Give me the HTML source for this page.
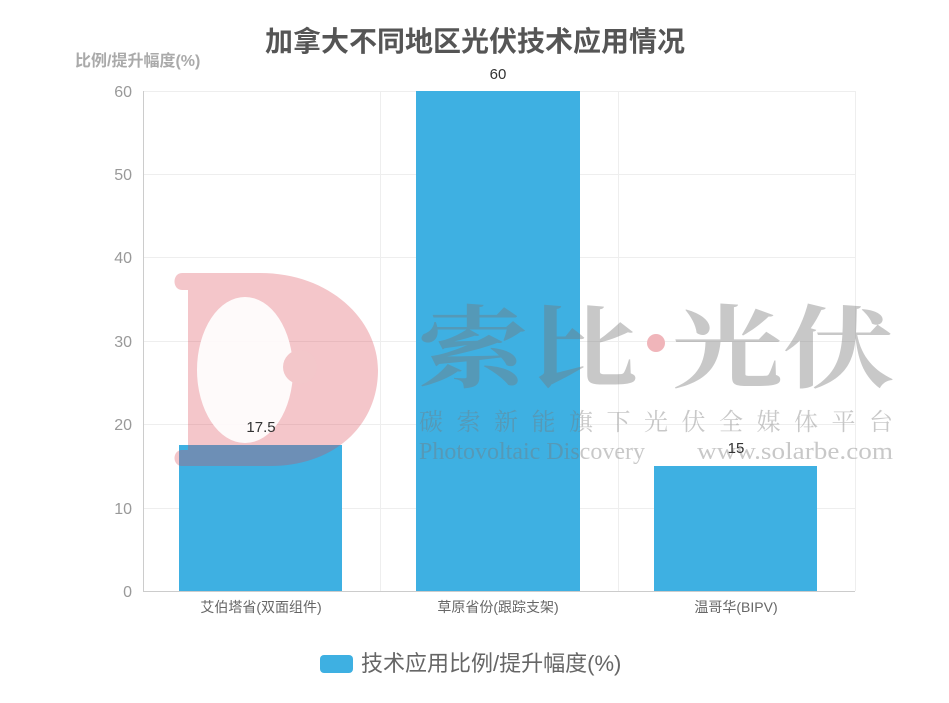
<!DOCTYPE html>
<html><head><meta charset="utf-8"><style>
html,body{margin:0;padding:0;background:#fff;}
svg{display:block;}
text{font-family:"Liberation Sans","Noto Sans CJK SC",sans-serif;}
</style></head><body>
<svg width="949" height="703" viewBox="0 0 949 703" xmlns="http://www.w3.org/2000/svg">
<text x="475" y="51" text-anchor="middle" font-size="28" font-weight="bold" fill="#555">加拿大不同地区光伏技术应用情况</text>
<text x="75" y="66" font-size="16" font-weight="bold" fill="#aaa">比例/提升幅度(%)</text>
<g stroke="#eee" stroke-width="1">
<line x1="143" y1="91.5" x2="855" y2="91.5"/>
<line x1="143" y1="174.5" x2="855" y2="174.5"/>
<line x1="143" y1="257.5" x2="855" y2="257.5"/>
<line x1="143" y1="341.5" x2="855" y2="341.5"/>
<line x1="143" y1="424.5" x2="855" y2="424.5"/>
<line x1="143" y1="508.5" x2="855" y2="508.5"/>
<line x1="380.5" y1="91" x2="380.5" y2="591"/>
<line x1="618.5" y1="91" x2="618.5" y2="591"/>
<line x1="855.5" y1="91" x2="855.5" y2="591"/>
</g>
<line x1="143.5" y1="91" x2="143.5" y2="591" stroke="#ccc"/>
<line x1="143" y1="591.5" x2="855" y2="591.5" stroke="#ccc"/>
<g font-size="16" fill="#999" text-anchor="end">
<text x="132" y="97">60</text><text x="132" y="180">50</text><text x="132" y="263">40</text>
<text x="132" y="347">30</text><text x="132" y="430">20</text><text x="132" y="514">10</text>
<text x="132" y="597">0</text>
</g>
<g fill="#3eb0e2">
<rect x="179" y="445" width="163" height="146"/>
<rect x="416" y="91" width="164" height="500"/>
<rect x="654" y="466" width="163" height="125"/>
</g>
<g opacity="0.3">
<path d="M182 273 L260 273 C330 273 378 320 378 370 C378 425 335 466 270 466 L182 466 C172 466 172 450 182 450 L188 450 L188 290 L182 290 C172 290 172 273 182 273 Z" fill="#d9434f"/>
</g>
<ellipse cx="245" cy="370" rx="48" ry="73" fill="#fff" opacity="0.9"/>
<circle cx="300" cy="367" r="17" fill="#f3c7ca"/>
<circle cx="656" cy="343" r="9" fill="#f0b5ba"/>
<g fill="#787878" opacity="0.4">
<text x="418" y="380" font-size="90" font-weight="bold" textLength="220" lengthAdjust="spacingAndGlyphs" style="font-family:'Noto Serif CJK SC',serif">索比</text>
<text x="672" y="380" font-size="90" font-weight="bold" textLength="222" lengthAdjust="spacingAndGlyphs" style="font-family:'Noto Serif CJK SC',serif">光伏</text>
<text x="419" y="430" font-size="24" textLength="474" lengthAdjust="spacing" style="font-family:'Noto Serif CJK SC',serif">碳索新能旗下光伏全媒体平台</text>
<text x="419" y="459" font-size="24" style="font-family:'Liberation Serif',serif">Photovoltaic Discovery</text>
<text x="697" y="459" font-size="24" textLength="196" lengthAdjust="spacingAndGlyphs" style="font-family:'Liberation Serif',serif">www.solarbe.com</text>
</g>
<g font-size="15" fill="#333" text-anchor="middle">
<text x="261" y="432">17.5</text><text x="498" y="79">60</text><text x="736" y="453">15</text>
</g>
<g font-size="14" fill="#666" text-anchor="middle">
<text x="261" y="612">艾伯塔省(双面组件)</text>
<text x="498" y="612">草原省份(跟踪支架)</text>
<text x="736" y="612">温哥华(BIPV)</text>
</g>
<rect x="320" y="655" width="33" height="18" rx="4" fill="#3eb0e2"/>
<text x="361" y="671" font-size="22" fill="#666">技术应用比例/提升幅度(%)</text>
</svg>
</body></html>
